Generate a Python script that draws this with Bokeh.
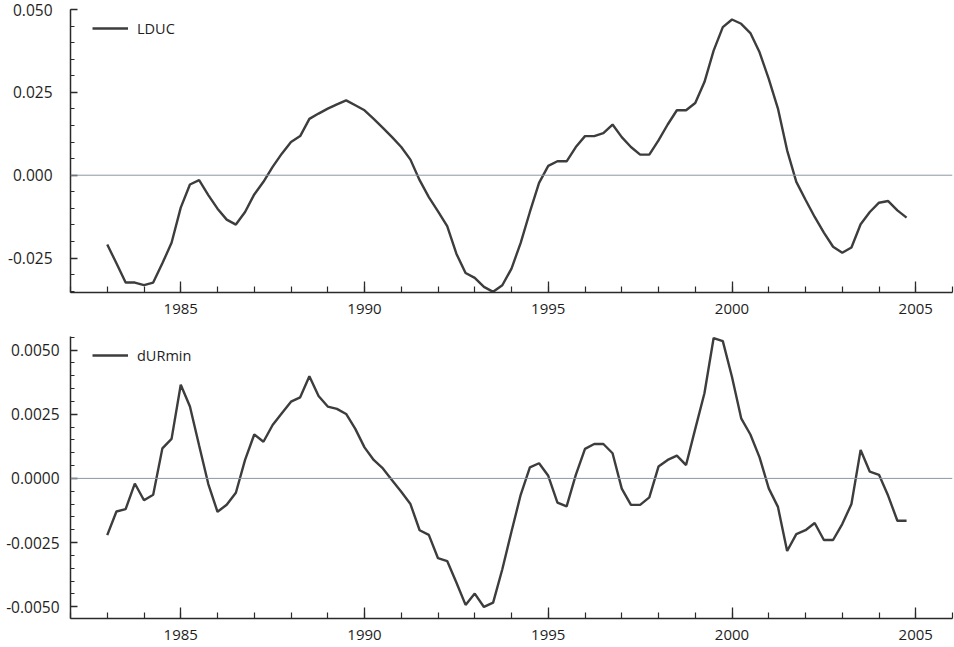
from bokeh.plotting import figure
from bokeh.models import (Range1d, SingleIntervalTicker, NumeralTickFormatter, Span,
                          Legend, LegendItem, LinearAxis, ColumnDataSource)
from bokeh.layouts import column
from bokeh.embed import file_html
from bokeh.resources import INLINE

# Quarterly observations, 1983Q1 - 2004Q4
start_year = 1983
n_quarters = 88
dates = [start_year + 0.25 * i for i in range(n_quarters)]

ldu_c = [
    -0.0209, -0.0266, -0.0324, -0.0324, -0.0332, -0.0324, -0.0266, -0.0204,
    -0.0098, -0.0028, -0.0015, -0.0060, -0.0101, -0.0134, -0.0149, -0.0111,
    -0.0058, -0.0020, 0.0025, 0.0065, 0.0100, 0.0118, 0.0170, 0.0186,
    0.0201, 0.0214, 0.0226, 0.0211, 0.0196, 0.0170, 0.0143, 0.0115,
    0.0085, 0.0047, -0.0015, -0.0066, -0.0109, -0.0154, -0.0237, -0.0295,
    -0.0310, -0.0337, -0.0352, -0.0332, -0.0282, -0.0204, -0.0111, -0.0023,
    0.0028, 0.0042, 0.0042, 0.0085, 0.0118, 0.0118, 0.0127, 0.0153,
    0.0115, 0.0085, 0.0062, 0.0062, 0.0105, 0.0153, 0.0196, 0.0196,
    0.0218, 0.0281, 0.0376, 0.0447, 0.0470, 0.0457, 0.0429, 0.0371,
    0.0291, 0.0201, 0.0075, -0.0020, -0.0074, -0.0126, -0.0173, -0.0216,
    -0.0234, -0.0218, -0.0148, -0.0111, -0.0083, -0.0078, -0.0106, -0.0128,
]

dur_min = [
    -0.00221, -0.00129, -0.00120, -0.00020, -0.00085, -0.00064, 0.00117, 0.00154,
    0.00365, 0.00280, 0.00128, -0.00022, -0.00130, -0.00103, -0.00056, 0.00072,
    0.00171, 0.00143, 0.00208, 0.00254, 0.00299, 0.00316, 0.00398, 0.00321,
    0.00280, 0.00271, 0.00251, 0.00193, 0.00121, 0.00072, 0.00039, -0.00007,
    -0.00052, -0.00100, -0.00202, -0.00220, -0.00311, -0.00322, -0.00406, -0.00493,
    -0.00449, -0.00501, -0.00484, -0.00354, -0.00207, -0.00064, 0.00043, 0.00059,
    0.00010, -0.00094, -0.00109, 0.00014, 0.00115, 0.00134, 0.00134, 0.00098,
    -0.00040, -0.00103, -0.00103, -0.00074, 0.00046, 0.00072, 0.00089, 0.00052,
    0.00193, 0.00332, 0.00547, 0.00535, 0.00395, 0.00234, 0.00171, 0.00082,
    -0.00039, -0.00111, -0.00283, -0.00217, -0.00202, -0.00174, -0.00240, -0.00240,
    -0.00178, -0.00100, 0.00111, 0.00026, 0.00014, -0.00068, -0.00165, -0.00165,
]

FONT = "Open Sans"
LINE_COLOR = "#3d3d3d"
AXIS_COLOR = "#2a2a2a"


def make_panel(name, values, y_lo, y_hi, y_step, y_fmt, y_standoff,
               height, border_top, border_bottom):
    p = figure(width=954, height=height,
               x_range=Range1d(1982, 2006), y_range=Range1d(y_lo, y_hi),
               x_axis_type=None, y_axis_type=None,
               output_backend="svg", toolbar_location=None,
               min_border_left=70, min_border_right=2,
               min_border_top=border_top, min_border_bottom=border_bottom)
    p.outline_line_color = None
    p.background_fill_color = "white"
    p.border_fill_color = "white"

    xaxis = LinearAxis(ticker=SingleIntervalTicker(interval=5, num_minor_ticks=5))
    yaxis = LinearAxis(ticker=SingleIntervalTicker(interval=y_step, num_minor_ticks=5),
                       formatter=NumeralTickFormatter(format=y_fmt))
    for ax, tin, tmin in ((xaxis, 11, 6), (yaxis, 7, 4)):
        ax.axis_line_color = AXIS_COLOR
        ax.axis_line_width = 1.5
        ax.major_tick_line_color = AXIS_COLOR
        ax.minor_tick_line_color = AXIS_COLOR
        ax.major_tick_line_width = 1.3
        ax.minor_tick_line_width = 1.2
        ax.major_tick_in = tin
        ax.major_tick_out = 0
        ax.minor_tick_in = tmin
        ax.minor_tick_out = 0
        ax.major_label_text_font = FONT
        ax.major_label_text_font_size = "15px"
        ax.major_label_text_color = "#1e1e1e"
    yaxis.major_label_text_font_size = "15.5px"
    xaxis.major_label_standoff = 11
    yaxis.major_label_standoff = y_standoff
    p.add_layout(xaxis, "below")
    p.add_layout(yaxis, "left")

    p.add_layout(Span(location=0, dimension="width",
                      line_color="#8c98a4", line_width=1))

    src = ColumnDataSource(data=dict(x=dates, y=values))
    r = p.line("x", "y", source=src, line_color=LINE_COLOR, line_width=2.4)

    legend = Legend(items=[LegendItem(label=name, renderers=[r])],
                    location=(22, height - border_top - border_bottom - 29),
                    border_line_color=None, background_fill_alpha=0,
                    padding=0, margin=0, spacing=0,
                    glyph_width=36, glyph_height=20, label_height=20,
                    label_standoff=9, label_text_font=FONT,
                    label_text_font_size="14.5px", label_text_color="#1e1e1e")
    p.add_layout(legend)
    return p


top = make_panel("LDUC", ldu_c, -0.0354, 0.05001, 0.025, "0.000", 18,
                 height=323, border_top=9, border_bottom=31)
bottom = make_panel("dURmin", dur_min, -0.00546, 0.00553, 0.0025, "0.0000", 11,
                    height=324, border_top=13, border_bottom=29)

layout = column(top, bottom)
open("out.html", "w").write(file_html(layout, INLINE))
